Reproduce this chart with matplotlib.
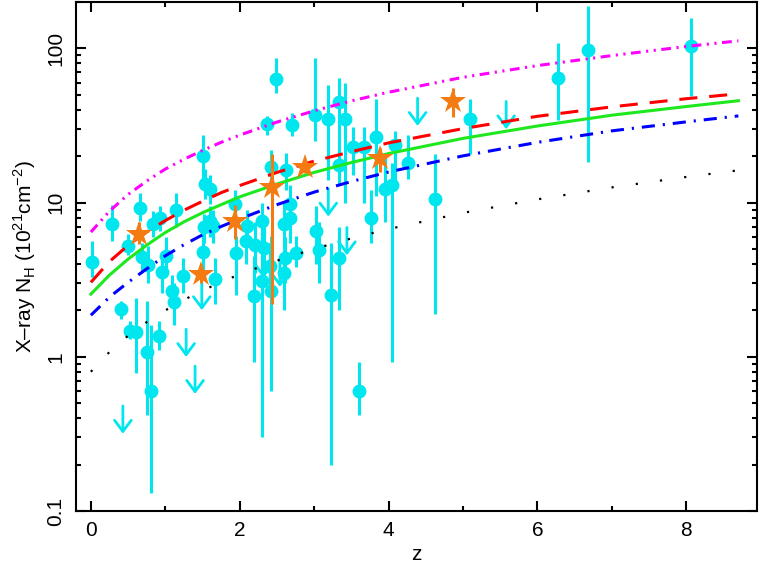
import numpy as np
import matplotlib
matplotlib.use('Agg')
import matplotlib.pyplot as plt
from matplotlib.ticker import NullFormatter, FixedLocator

plt.rcParams['font.family'] = ['Liberation Sans', 'DejaVu Sans']
plt.rcParams['mathtext.fontset'] = 'custom'
plt.rcParams['mathtext.rm'] = 'Liberation Sans'

# model curves
zc = [0, 0.25, 0.5, 0.75, 1, 1.25, 1.5, 1.75, 2, 2.5, 3, 3.5, 4, 5, 6, 7, 8, 8.7]
magenta = [6.44, 8.8, 11.3, 13.8, 16.5, 19.1, 21.8, 24.6, 27.4, 33.3, 39.4, 45.7, 52.0, 65.0, 77.4, 89.9, 103, 112]
red = [3.04, 4.15, 5.28, 6.45, 7.65, 8.93, 10.2, 11.6, 12.9, 15.7, 18.6, 21.4, 24.4, 30.2, 36.3, 41.8, 47.2, 50.8]
green = [2.55, 3.39, 4.3, 5.3, 6.4, 7.5, 8.6, 9.7, 10.9, 13.2, 15.7, 18.2, 20.8, 26.1, 31.4, 36.9, 42.0, 45.8]
blue = [1.86, 2.44, 3.04, 3.72, 4.52, 5.33, 6.18, 7.0, 7.84, 9.7, 11.7, 13.7, 15.8, 20.1, 24.6, 29.2, 33.4, 36.5]
black = [0.80, 1.075, 1.37, 1.68, 2.0, 2.34, 2.69, 3.05, 3.43, 4.2, 5.01, 5.86, 6.74, 8.58, 10.5, 12.55, 14.67, 16.2]

# cyan points: z, N_H, lower end, upper end
cz = [0.02, 0.29, 0.41, 0.50, 0.53, 0.60, 0.66, 0.69, 0.75, 0.77, 0.81, 0.83, 0.92, 0.93,
      0.95, 1.01, 1.09, 1.12, 1.15, 1.24, 1.50, 1.50, 1.54, 1.60, 1.52, 1.60, 1.64, 1.67,
      1.94, 1.95, 2.10, 2.08, 2.20, 2.30, 2.32, 2.19, 2.30, 2.41, 2.42, 2.37, 2.42, 2.49,
      2.62, 2.68, 2.68, 2.59, 2.61, 2.60, 2.70, 2.76, 3.01, 3.03, 3.07, 3.19, 3.23, 3.34,
      3.34, 3.42, 3.34, 3.52, 3.67, 3.60, 3.77, 3.83, 3.95, 4.05, 4.09, 4.26, 4.62, 5.09,
      6.28, 6.68, 8.07]
cv = [4.1, 7.3, 2.04, 5.25, 1.47, 1.44, 9.2, 4.45, 1.07, 3.95, 0.6, 7.3, 1.36, 7.9,
      3.55, 4.5, 2.67, 2.26, 8.9, 3.35, 4.8, 20.2, 13.3, 12.3, 6.95, 7.6, 7.1, 3.2,
      9.8, 4.7, 7.1, 5.6, 5.3, 7.6, 5.1, 2.47, 3.12, 3.88, 2.69, 32.2, 17.1, 63.5,
      16.2, 9.8, 7.9, 7.3, 4.4, 3.5, 31.9, 4.7, 37.1, 6.5, 4.9, 34.9, 2.53, 44.9,
      4.4, 34.9, 17.5, 23.1, 23.1, 0.6, 7.9, 26.5, 12.3, 13.0, 23.6, 18.0, 10.6, 34.9,
      64.3, 97.7, 103]
clo = [3.3, 5.6, 1.75, 4.6, 1.3, 0.79, 7.6, 3.6, 0.42, 3.0, 0.13, 6.0, 1.1, 6.5,
       2.6, 3.5, 2.1, 1.6, 7.0, 2.6, 3.5, 12.3, 10.5, 9.8, 5.5, 6.0, 5.5, 2.2,
       8.0, 2.5, 5.5, 4.0, 3.5, 5.5, 3.5, 0.92, 0.3, 2.5, 0.6, 27.6, 12.5, 51.3,
       12.0, 7.0, 5.5, 5.0, 3.0, 2.0, 27.0, 3.8, 25.0, 4.0, 3.0, 14.0, 0.2, 20.0,
       2.0, 10.0, 13.0, 15.0, 10.0, 0.42, 5.5, 11.0, 7.5, 0.92, 14.0, 14.3, 1.9, 20.8,
       34.3, 18.4, 49]
chi = [5.6, 9.6, 2.3, 6.3, 1.7, 2.4, 11.5, 5.5, 2.3, 5.2, 1.6, 8.8, 1.7, 9.5,
       4.6, 6.0, 3.4, 3.0, 11.5, 4.4, 6.5, 27.3, 16.5, 15.0, 8.5, 9.5, 9.0, 4.4,
       12.0, 6.1, 9.0, 7.5, 7.5, 10.0, 7.0, 4.5, 8.2, 5.5, 6.1, 36.5, 22.0, 86.7,
       21.0, 13.0, 11.0, 10.0, 6.0, 5.0, 38.0, 6.1, 86.7, 9.5, 7.5, 58.0, 5.5, 64.0,
       7.0, 60.0, 23.0, 31.0, 31.0, 0.92, 12.0, 47.0, 20.0, 18.0, 29.0, 27.3, 20.8, 47.0,
       109, 189, 157]

# upper limits
uz = [0.43, 1.28, 1.40, 1.49, 2.32, 2.54, 3.19, 3.44, 4.39, 5.58]
uv = [0.48, 1.51, 0.87, 3.04, 4.9, 4.3, 12.3, 6.9, 47.6, 45.3]

# orange stars
sz = [0.64, 1.48, 1.94, 2.44, 2.88, 3.88, 4.87]
sv = [6.3, 3.45, 7.6, 12.7, 17.1, 19.4, 45.7]
slo = [5.4, 3.0, 5.8, 2.2, 15.5, 15.9, 36.1]
shi = [7.5, 4.0, 9.6, 20.8, 19.0, 22.5, 55.3]

cyan = '#00e6ee'
orange = '#f47a12'

fig = plt.figure(figsize=(7.63, 5.63), dpi=100)
ax = fig.add_axes([0.0996, 0.0924, 0.8925, 0.904])

cv_a = np.array(cv)
ax.errorbar(cz, cv, yerr=[cv_a - np.array(clo), np.array(chi) - cv_a], fmt='o', ms=10,
            color=cyan, mec=cyan, mew=0, elinewidth=2.2, capsize=0, zorder=2)

for z, v in zip(uz, uv):
    ax.annotate('', xy=(z, v), xytext=(0, -20), textcoords='offset points',
                arrowprops=dict(arrowstyle='<-,head_length=0.4,head_width=0.3',
                                color=cyan, lw=2, shrinkA=0, shrinkB=0,
                                mutation_scale=20), zorder=2)

ax.plot(zc, magenta, color='#ff00ff', lw=2.2, ls=(0, (3.2, 1.8, 0.7, 1.8, 0.7, 1.8)), zorder=3)
ax.plot(zc, red, color='#ff0000', lw=2.2, ls=(0, (5.9, 3.9)), zorder=3)
ax.plot(zc, green, color='#1ee81e', lw=2.2, zorder=3)
ax.plot(zc, blue, color='#0000ff', lw=2.2, ls=(0, (4.3, 2.6, 0.7, 2.6)), zorder=3)
ax.plot(zc, black, color='black', lw=1.6, ls=(0, (1, 10)), zorder=3)

sv_a = np.array(sv)
ax.errorbar(sz, sv, yerr=[sv_a - np.array(slo), np.array(shi) - sv_a], fmt='*', ms=19,
            color=orange, mec=orange, mew=0, elinewidth=2.2, capsize=0, zorder=4)

ax.set_yscale('log')
ax.set_xlim(-0.2, 8.95)
ax.set_ylim(0.1, 200)

ax.set_xticks([0, 2, 4, 6, 8])
ax.set_xticks([1, 3, 5, 7], minor=True)
ax.set_yticks([0.1, 1, 10, 100])
ax.set_yticklabels(['0.1', '1', '10', '100'], rotation=90, va='center')
ax.yaxis.set_minor_locator(FixedLocator([m * 10.0**e for e in range(-1, 3) for m in range(2, 10)]))
ax.yaxis.set_minor_formatter(NullFormatter())

ax.tick_params(which='both', direction='in', top=True, right=True, width=1.5, labelsize=15)
ax.tick_params(which='major', length=7)
ax.tick_params(which='minor', length=3.5)
ax.tick_params(axis='x', pad=7)
ax.tick_params(axis='y', pad=8)
for s in ax.spines.values():
    s.set_linewidth(1.5)

ax.set_xlabel('z', fontsize=15, labelpad=4)
ax.set_ylabel('X\u2013ray N$_\\mathregular{H}$ (10$^\\mathregular{21}$cm$^\\mathregular{-2}$)',
              fontsize=15, labelpad=6)

plt.savefig('out.png', dpi=100)
